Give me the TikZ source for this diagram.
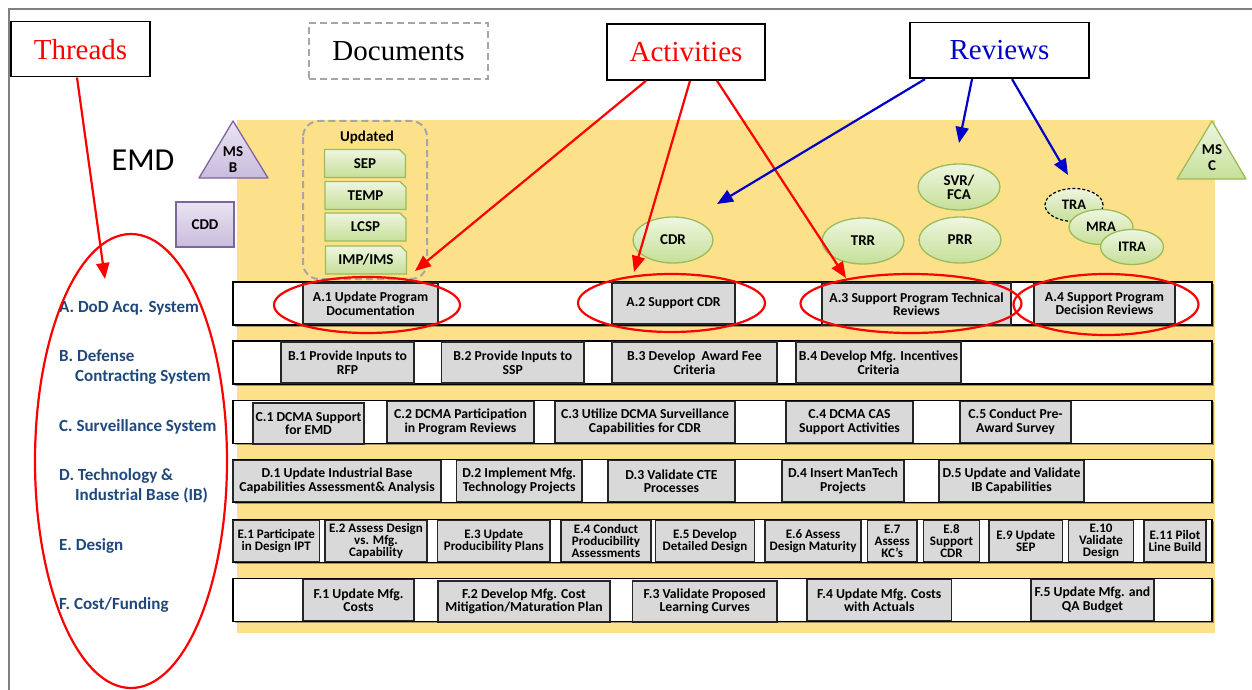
\documentclass[tikz,border=0pt]{standalone}
\usepackage{fontspec}
\setmainfont{Liberation Serif}
\newfontfamily\calib{Carlito}
\usetikzlibrary{arrows.meta,shapes.geometric,shapes.misc,shadows}
\definecolor{bgyellow}{RGB}{253,225,138}
\definecolor{boxgray}{RGB}{217,217,217}
\definecolor{threadblue}{RGB}{31,73,125}
\definecolor{revblue}{RGB}{0,0,200}
\definecolor{gfillA}{RGB}{238,246,224}
\definecolor{gfillB}{RGB}{198,223,152}
\definecolor{gborder}{RGB}{155,187,89}
\definecolor{pfillA}{RGB}{234,228,242}
\definecolor{pfillB}{RGB}{200,188,220}
\definecolor{pborder}{RGB}{128,100,162}
\definecolor{dashgray}{RGB}{166,166,166}
\definecolor{framegray}{RGB}{128,128,128}
\begin{document}
\begin{tikzpicture}[x=1pt,y=-1pt,
  titlebox/.style={draw=black, line width=1.6pt, fill=white, inner sep=0, font=\fontsize{29}{32}\selectfont},
  bar/.style={draw=black, line width=1.4pt, fill=white, inner sep=0, minimum width=979pt, minimum height=43pt,
     drop shadow={shadow xshift=1.5pt, shadow yshift=-1.5pt, fill=black, opacity=0.35}},
  act/.style={draw=black!85, line width=1.2pt, fill=boxgray, inner sep=0, align=center, minimum height=41pt,
     font=\calib\bfseries\fontsize{13.7}{13.5}\selectfont},
  eact/.style={act, font=\calib\bfseries\fontsize{13}{12}\selectfont},
  thread/.style={anchor=west, inner sep=0, align=left, text=threadblue, font=\calib\bfseries\fontsize{17}{20}\selectfont},
  rev/.style={ellipse, draw=gborder, line width=1.3pt, top color=gfillA, bottom color=gfillB, inner sep=0, align=center,
     font=\calib\bfseries\fontsize{15}{16}\selectfont},
  docbox/.style={chamfered rectangle, chamfered rectangle corners=north east, chamfered rectangle xsep=3pt,
     chamfered rectangle ysep=3pt, draw=gborder, line width=1.3pt, top color=gfillA, bottom color=gfillB,
     inner sep=0, minimum width=81pt, minimum height=28pt, font=\calib\bfseries\fontsize{15}{16}\selectfont},
  tritext/.style={inner sep=0, align=center, font=\calib\bfseries\fontsize{15}{16}\selectfont},
  redring/.style={ellipse, draw=red, line width=2.2pt, inner sep=0},
  redarrow/.style={draw=red, line width=2.2pt, -{Triangle[length=16pt,width=13pt]}},
  bluearrow/.style={draw=revblue, line width=2.2pt, -{Triangle[length=16pt,width=13pt]}}
]
\useasboundingbox (0,0) rectangle (1252,690);
\fill[white] (0,0) rectangle (1252,690);
\draw[framegray, line width=2pt] (9,690) -- (9,9) -- (1252,9);

% title boxes
\node[titlebox, minimum width=139pt, minimum height=55pt, text=red] (threads) at (80.5,49.2) {Threads};
\node[titlebox, draw=dashgray, dash pattern=on 7pt off 4pt, line width=2pt, minimum width=179pt, minimum height=56pt] (docs) at (398.5,50.8) {Documents};
\node[titlebox, minimum width=158pt, minimum height=56pt, text=red] (acts) at (686,52) {Activities};
\node[titlebox, minimum width=179pt, minimum height=55.6pt, text=revblue] (revs) at (999.5,50.5) {Reviews};

% background
\fill[bgyellow] (237,120) rectangle (1214.5,632.5);

\node[inner sep=0, font=\calib\fontsize{32}{36}\selectfont] (emd) at (143,160) {EMD};

% milestones
\path[draw=pborder, line width=1.3pt, top color=pfillA, bottom color=pfillB, line join=round] (233,121) -- (268,178) -- (199,178) -- cycle;
\node[tritext] (msb) at (233,160) {MS\\B};
\path[draw=gborder, line width=1.3pt, top color=gfillA, bottom color=gfillB, line join=round] (1212,121) -- (1246,179) -- (1177,179) -- cycle;
\node[tritext] (msc) at (1212,158) {MS\\C};
\node[draw=pborder, line width=1.3pt, top color=pfillA, bottom color=pfillB, inner sep=0, minimum width=58pt, minimum height=45pt,
  font=\calib\bfseries\fontsize{15}{16}\selectfont] (cdd) at (205,224.5) {CDD};

% documents group
\draw[dashgray, line width=2pt, dash pattern=on 7pt off 4pt, rounded corners=16pt] (303,121) rectangle (427,279);
\node[inner sep=0, font=\calib\bfseries\fontsize{15}{16}\selectfont] (updated) at (367,137) {Updated};
\node[docbox] (sep) at (365,163.5) {SEP};
\node[docbox] (temp) at (365.5,195.5) {TEMP};
\node[docbox] (lcsp) at (365.5,227) {LCSP};
\node[docbox] (imp) at (366,260) {IMP/IMS};

% reviews
\node[rev, minimum width=80pt, minimum height=46pt] (cdr) at (673,240) {CDR};
\node[rev, minimum width=82pt, minimum height=46pt] (trr) at (863,241) {TRR};
\node[rev, minimum width=82pt, minimum height=46pt] (prr) at (960,240) {PRR};
\node[rev, minimum width=82pt, minimum height=46pt] (svr) at (959,187) {SVR/\\[-2pt]FCA};
\node[rev, draw=black, dash pattern=on 3pt off 2pt, line width=1.2pt, minimum width=58pt, minimum height=33pt, font=\calib\bfseries\fontsize{14.5}{16}\selectfont] (tra) at (1074,205) {TRA};
\node[rev, minimum width=64pt, minimum height=35pt, font=\calib\bfseries\fontsize{14.5}{16}\selectfont] (mra) at (1101,227) {MRA};
\node[rev, minimum width=63pt, minimum height=35pt, font=\calib\bfseries\fontsize{14.5}{16}\selectfont] (itra) at (1132,247) {ITRA};

% rows
\node[bar] (rowA) at (722.5,303.5) {};
\node[bar] (rowB) at (722.5,362.5) {};
\node[bar] (rowC) at (722.5,422) {};
\node[bar] (rowD) at (722.5,481) {};
\node[bar] (rowE) at (722.5,541) {};
\node[bar] (rowF) at (722.5,600) {};

% row A
\node[act, minimum width=135pt] (a1) at (370.5,303.5) {A.1 Update Program\\Documentation};
\node[act, minimum width=123pt] (a2) at (673.5,303.5) {A.2 Support CDR};
\node[act, minimum width=189pt, minimum height=42pt] (a3) at (916.5,304) {A.3 Support Program Technical\\Reviews};
\node[act, minimum width=141pt] (a4) at (1104.5,303.5) {A.4 Support Program\\Decision Reviews};
% row B
\node[act, minimum width=133pt] (b1) at (347.5,362.5) {B.1 Provide Inputs to\\RFP};
\node[act, minimum width=142.5pt] (b2) at (512.75,362.5) {B.2 Provide Inputs to\\SSP};
\node[act, minimum width=165pt] (b3) at (694.5,362.5) {B.3 Develop\ \ Award Fee\\Criteria};
\node[act, minimum width=165pt] (b4) at (878.5,362.5) {B.4 Develop Mfg. Incentives\\Criteria};
% row C
\node[act, minimum width=111pt] (c1) at (308.5,423.5) {C.1 DCMA Support\\for EMD};
\node[act, minimum width=147pt] (c2) at (460.5,422) {C.2 DCMA Participation\\in Program Reviews};
\node[act, minimum width=180pt] (c3) at (645,422) {C.3 Utilize DCMA Surveillance\\Capabilities for CDR};
\node[act, minimum width=127pt] (c4) at (849.5,422) {C.4 DCMA CAS\\Support Activities};
\node[act, minimum width=111pt] (c5) at (1015.5,422) {C.5 Conduct Pre-\\Award Survey};
% row D
\node[act, minimum width=208pt] (d1) at (337,481) {D.1 Update Industrial Base\\Capabilities Assessment\& Analysis};
\node[act, minimum width=125.5pt] (d2) at (519.25,481) {D.2 Implement Mfg.\\Technology Projects};
\node[act, minimum width=127pt] (d3) at (671.5,481) {D.3 Validate CTE\\Processes};
\node[act, minimum width=122pt] (d4) at (843,481) {D.4 Insert ManTech\\Projects};
\node[act, minimum width=145pt] (d5) at (1011.5,481) {D.5 Update and Validate\\IB Capabilities};
% row E
\node[eact, minimum width=86.5pt] (e1) at (276.25,541) {E.1 Participate\\in Design IPT};
\node[eact, minimum width=102pt] (e2) at (376,541) {E.2 Assess Design\\vs. Mfg.\\Capability};
\node[eact, minimum width=112.5pt] (e3) at (493.75,541) {E.3 Update\\Producibility Plans};
\node[eact, minimum width=90pt] (e4) at (606,541) {E.4 Conduct\\Producibility\\Assessments};
\node[eact, minimum width=99pt] (e5) at (705,541) {E.5 Develop\\Detailed Design};
\node[eact, minimum width=96pt] (e6) at (813,541) {E.6 Assess\\Design Maturity};
\node[eact, minimum width=49.5pt] (e7) at (892.25,541) {E.7\\Assess\\KC’s};
\node[eact, minimum width=56pt] (e8) at (951.5,541) {E.8\\Support\\CDR};
\node[eact, minimum width=73.5pt] (e9) at (1025.75,541) {E.9 Update\\SEP};
\node[eact, minimum width=65pt] (e10) at (1101,541) {E.10\\Validate\\Design};
\node[eact, minimum width=62pt] (e11) at (1175,541) {E.11 Pilot\\Line Build};
% row F
\node[act, minimum width=111pt] (f1) at (358.5,600) {F.1 Update Mfg.\\Costs};
\node[act, minimum width=172pt] (f2) at (524,601.5) {F.2 Develop Mfg. Cost\\Mitigation/Maturation Plan};
\node[act, minimum width=144.5pt] (f3) at (704.75,601.5) {F.3 Validate Proposed\\Learning Curves};
\node[act, minimum width=144.5pt] (f4) at (879.25,600) {F.4 Update Mfg. Costs\\with Actuals};
\node[act, minimum width=123pt] (f5) at (1092.5,600) {F.5 Update Mfg. and\\QA Budget};

% red rings around activities
\node[redring, minimum width=186pt, minimum height=56pt] (ringA1) at (367,305) {};
\node[redring, minimum width=187pt, minimum height=58pt] (ringA2) at (671.5,303) {};
\node[redring, minimum width=221pt, minimum height=59pt] (ringA3) at (911,303.5) {};
\node[redring, minimum width=185pt, minimum height=61pt] (ringA4) at (1106,304.5) {};

% thread labels
\node[thread] (thA) at (59,308) {A. DoD Acq. System};
\node[thread] (thB) at (59,367) {B. Defense\\\hspace*{16pt}Contracting System};
\node[thread] (thC) at (59,427) {C. Surveillance System};
\node[thread] (thD) at (59,486) {D. Technology \&\\\hspace*{16pt}Industrial Base (IB)};
\node[thread] (thE) at (59,546) {E. Design};
\node[thread] (thF) at (59,605) {F. Cost/Funding};

% big thread ellipse
\node[redring, minimum width=192pt, minimum height=454pt] (ringT) at (131,461) {};

% arrows
\coordinate (tipT) at (105,279);
\coordinate (tipA1) at (415,271);
\coordinate (tipA2) at (634,272);
\coordinate (tipA3) at (846,278);
\coordinate (tipR1) at (717,204);
\coordinate (tipR2) at (959,143);
\coordinate (tipR3) at (1068,175);
\draw[redarrow] ([xshift=-3.5pt]threads.south) -- (tipT);
\draw[redarrow] ([xshift=-40pt]acts.south) -- (tipA1);
\draw[redarrow] ([xshift=4pt]acts.south) -- (tipA2);
\draw[redarrow] ([xshift=31pt]acts.south) -- (tipA3);
\draw[bluearrow] ([xshift=-74.5pt]revs.south) -- (tipR1);
\draw[bluearrow] ([xshift=-27.5pt]revs.south) -- (tipR2);
\draw[bluearrow] ([xshift=12.5pt]revs.south) -- (tipR3);
\end{tikzpicture}
\end{document}
